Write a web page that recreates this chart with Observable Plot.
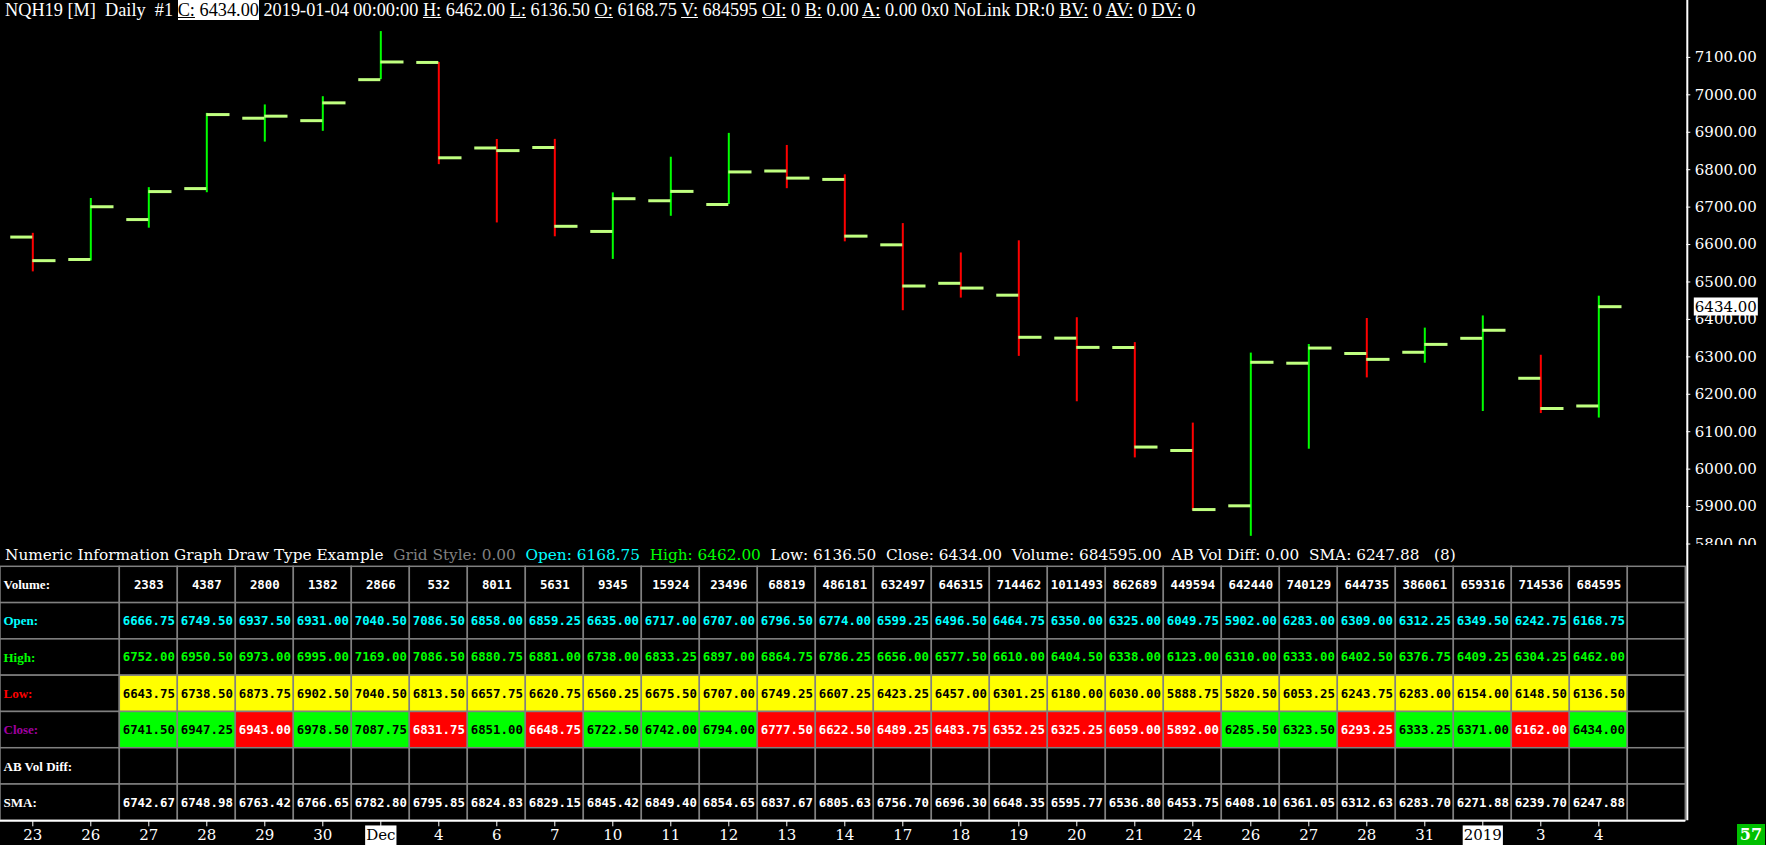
<!DOCTYPE html>
<html><head><meta charset="utf-8">
<script src="https://cdn.jsdelivr.net/npm/d3@7"></script>
<script src="https://cdn.jsdelivr.net/npm/@observablehq/plot@0.6"></script>
<style>
html,body{margin:0;padding:0;background:#000;overflow:hidden;}
#root{position:relative;width:1766px;height:845px;background:#000;overflow:hidden;}
.abs{position:absolute;}
#header{top:0px;left:5px;font:18.3px "Liberation Serif";color:#fff;white-space:pre;line-height:21px;}
#header .hl{background:#fff;color:#000;}
#title{top:545px;left:5px;font:15.3px "DejaVu Serif";color:#fff;white-space:pre;line-height:20px;}
#counter{left:1737px;top:824px;width:28px;height:21px;background:#00c000;color:#fff;font:bold 16px "DejaVu Serif";text-align:center;line-height:21px;}
svg{display:block;}
</style></head>
<body><div id="root">
<div id="price" class="abs" style="top:0;left:0"></div>
<div id="table" class="abs" style="top:545px;left:0"></div>
<div id="header" class="abs"></div>
<div id="title" class="abs"></div>
<div id="counter" class="abs">57</div>
</div>
<script>
// ---- data ----
const symbol = "NQH19";
const dates = ["23","26","27","28","29","30","Dec","4","6","7","10","11","12","13","14","17","18","19","20","21","24","26","27","28","31","2019","3","4"];
const highlightDates = ["Dec","2019"];
const opens  = [6620.00,6560.00,6666.75,6749.50,6937.50,6931.00,7040.50,7086.50,6858.00,6859.25,6635.00,6717.00,6707.00,6796.50,6774.00,6599.25,6496.50,6464.75,6350.00,6325.00,6049.75,5902.00,6283.00,6309.00,6312.25,6349.50,6242.75,6168.75];
const highs  = [6630.00,6723.00,6752.00,6950.50,6973.00,6995.00,7169.00,7086.50,6880.75,6881.00,6738.00,6833.25,6897.00,6864.75,6786.25,6656.00,6577.50,6610.00,6404.50,6338.00,6123.00,6310.00,6333.00,6402.50,6376.75,6409.25,6304.25,6462.00];
const lows   = [6527.00,6556.00,6643.75,6738.50,6873.75,6902.50,7040.50,6813.50,6657.75,6620.75,6560.25,6675.50,6707.00,6749.25,6607.25,6423.25,6457.00,6301.25,6180.00,6030.00,5888.75,5820.50,6053.25,6243.75,6283.00,6154.00,6148.50,6136.50];
const closes = [6557.00,6701.00,6741.50,6947.25,6943.00,6978.50,7087.75,6831.75,6851.00,6648.75,6722.50,6742.00,6794.00,6777.50,6622.50,6489.25,6483.75,6352.25,6325.25,6059.00,5892.00,6285.50,6323.50,6293.25,6333.25,6371.00,6162.00,6434.00];
// table columns start at the third bar (27)
const tableStart = 2;
const volumes = [2383,4387,2800,1382,2866,532,8011,5631,9345,15924,23496,68819,486181,632497,646315,714462,1011493,862689,449594,642440,740129,644735,386061,659316,714536,684595];
const sma = [6742.67,6748.98,6763.42,6766.65,6782.80,6795.85,6824.83,6829.15,6845.42,6849.40,6854.65,6837.67,6805.63,6756.70,6696.30,6648.35,6595.77,6536.80,6453.75,6408.10,6361.05,6312.63,6283.70,6271.88,6239.70,6247.88];
const abVolDiff = 0.00;
const smaLength = 8;
const rowLabels = ["Volume:","Open:","High:","Low:","Close:","AB Vol Diff:","SMA:"];
const yTicks = [5800,5900,6000,6100,6200,6300,6400,6500,6600,6700,6800,6900,7000,7100];

// ---- colours ----
const C = {up:"#00ff00", down:"#ff0000", tick:"#c0ff80", cyan:"#00ffff", green:"#00ff00", red:"#ff0000",
  yellow:"#ffff00", purple:"#a000a0", grid:"#808080", white:"#ffffff", black:"#000000", cellUp:"#00ff00", cellDown:"#ff0000"};
const rowLabelColors = [C.white, C.cyan, C.green, C.red, C.purple, C.white, C.white];

const N = dates.length;
const bars = dates.map((d,i)=>({i, date:d, open:opens[i], high:highs[i], low:lows[i], close:closes[i]}));
const xDomain = [-0.557, N + 0.5];
const f2 = v => v.toFixed(2);

// ---- price pane ----
const price = Plot.plot({
  width: 1766, height: 545,
  marginLeft: 0, marginRight: 80.7, marginTop: 0, marginBottom: 0,
  style: {background: "#000", color: "#fff", overflow: "hidden"},
  color: {type: "identity"},
  x: {domain: xDomain, axis: null},
  y: {domain: [5796, 7252], axis: null},
  marks: [
    Plot.ruleX(bars, {x: "i", y1: "low", y2: "high", stroke: d => d.close >= d.open ? C.up : C.down, strokeWidth: 2}),
    Plot.ruleY(bars, {y: "open", x1: d => d.i - 0.38, x2: d => d.i, stroke: C.tick, strokeWidth: 3}),
    Plot.ruleY(bars, {y: "close", x1: d => d.i, x2: d => d.i + 0.4, stroke: C.tick, strokeWidth: 3}),
    Plot.axisY(yTicks, {anchor: "right", tickSize: 4, tickPadding: 5, tickFormat: f2, fontSize: 15, fontFamily: "DejaVu Serif", label: null}),
    Plot.ruleX([xDomain[1]], {stroke: C.white, strokeWidth: 2, dx: 1.5}),
    Plot.text([bars[N-1]], {y: "close", frameAnchor: "right", dx: 9, textAnchor: "start", text: d => f2(d.close),
      fill: C.black, fontSize: 15, fontFamily: "DejaVu Serif", className: "lastlabel"})
  ]
});
document.getElementById("price").appendChild(price);

// ---- table pane ----
const cells = [];
for (let c = tableStart; c <= N; c++) {
  const k = c - tableStart;
  const has = c < N;
  for (let r = 0; r < rowLabels.length; r++) {
    let fill = C.black, text = "", tfill = C.white;
    if (has) {
      if (r === 0) { text = String(volumes[k]); tfill = C.white; }
      if (r === 1) { text = f2(opens[c]); tfill = C.cyan; }
      if (r === 2) { text = f2(highs[c]); tfill = C.green; }
      if (r === 3) { text = f2(lows[c]); fill = C.yellow; tfill = C.black; }
      if (r === 4) { const up = closes[c] >= closes[c-1]; text = f2(closes[c]); fill = up ? C.cellUp : C.cellDown; tfill = up ? C.black : C.white; }
      if (r === 6) { text = f2(sma[k]); tfill = C.white; }
    }
    cells.push({c, r, fill, text, tfill});
  }
}
const rowIdx = rowLabels.map((l,i)=>({label:l, r:i, color:rowLabelColors[i]}));

const table = Plot.plot({
  width: 1766, height: 300,
  marginLeft: 0, marginRight: 80.7, marginTop: 0, marginBottom: 24.7,
  style: {background: "#000", color: "#fff", overflow: "visible"},
  color: {type: "identity"},
  x: {domain: xDomain, axis: null},
  y: {domain: [rowLabels.length - 0.5, -1.087], axis: null},
  marks: [
    Plot.rect(rowIdx, {x1: xDomain[0], x2: tableStart - 0.5, y1: d => d.r - 0.5, y2: d => d.r + 0.5, fill: C.black, stroke: C.grid, strokeWidth: 1.5}),
    Plot.rect(cells, {x1: d => d.c - 0.5, x2: d => d.c + 0.5, y1: d => d.r - 0.5, y2: d => d.r + 0.5, fill: "fill", stroke: C.grid, strokeWidth: 1.5}),
    Plot.text(rowIdx, {x: xDomain[0], y: "r", text: "label", textAnchor: "start", dx: 3, fill: "color", fontWeight: "bold", fontFamily: "Liberation Serif", fontSize: 13}),
    Plot.text(cells.filter(d => d.text), {x: "c", y: "r", text: "text", fill: "tfill", fontWeight: "bold", fontFamily: "DejaVu Sans Mono", fontSize: 12.4}),
    Plot.axisX(d3.range(N), {anchor: "bottom", tickSize: 6, tickPadding: 3, tickFormat: i => dates[i], fontSize: 15, fontFamily: "DejaVu Serif", label: null}),
    Plot.ruleX([xDomain[1]], {stroke: C.white, strokeWidth: 2, dx: 1.5}),
    Plot.ruleY([rowLabels.length - 0.5], {stroke: C.white, strokeWidth: 2})
  ]
});
document.getElementById("table").appendChild(table);

// ---- highlight boxes behind chosen texts (white box, black text) ----
function boxText(el, padX, padY) {
  const b = el.getBBox();
  const rect = document.createElementNS("http://www.w3.org/2000/svg", "rect");
  rect.setAttribute("x", b.x - padX); rect.setAttribute("y", b.y - padY);
  rect.setAttribute("width", b.width + 2*padX); rect.setAttribute("height", b.height + 2*padY);
  rect.setAttribute("fill", "#fff");
  const t = el.getAttribute("transform"); if (t) rect.setAttribute("transform", t);
  el.parentNode.insertBefore(rect, el);
  el.style.fill = "#000";
}
d3.select(price).selectAll(".lastlabel text").each(function(){ boxText(this, 1, 0); });
d3.select(table).selectAll("text").filter(function(){ return highlightDates.includes(this.textContent); }).each(function(){ boxText(this, 1, 1); });

// ---- header and title (text) ----
const L = N - 1;
const u = s => `<u>${s}</u>`;
document.getElementById("header").innerHTML =
  `${symbol} [M]  Daily  #1 <span class="hl">${u("C:")} ${f2(closes[L])}</span> 2019-01-04 00:00:00 ${u("H:")} ${f2(highs[L])} ${u("L:")} ${f2(lows[L])} ${u("O:")} ${f2(opens[L])} ${u("V:")} ${volumes[volumes.length-1]} ${u("OI:")} 0 ${u("B:")} 0.00 ${u("A:")} 0.00 0x0 NoLink DR:0 ${u("BV:")} 0 ${u("AV:")} 0 ${u("DV:")} 0`;
document.getElementById("title").innerHTML =
  `Numeric Information Graph Draw Type Example  <span style="color:#808080">Grid Style: 0.00</span>  <span style="color:${C.cyan}">Open: ${f2(opens[L])}</span>  <span style="color:${C.green}">High: ${f2(highs[L])}</span>  Low: ${f2(lows[L])}  Close: ${f2(closes[L])}  Volume: ${volumes[volumes.length-1].toFixed(2)}  AB Vol Diff: ${f2(abVolDiff)}  SMA: ${f2(sma[sma.length-1])}   (${smaLength})`;
</script>
</body></html>
